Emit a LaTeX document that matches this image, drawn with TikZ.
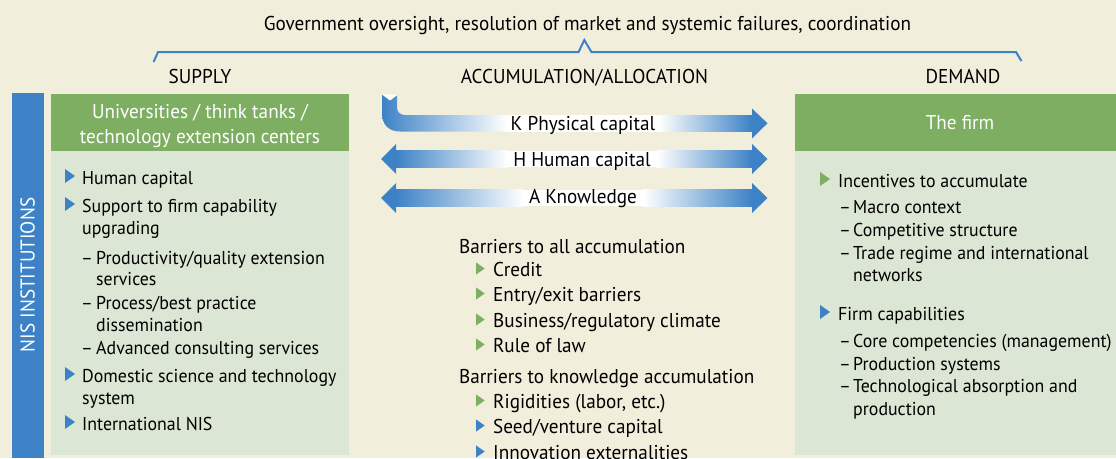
\documentclass[tikz,border=0pt]{standalone}
\usepackage{fontspec}
\setmainfont[FakeStretch=0.96]{PT Sans}
\usetikzlibrary{calc}
\definecolor{bgcream}{HTML}{F2EEDC}
\definecolor{nisblue}{HTML}{3D82C6}
\definecolor{hdgreen}{HTML}{7DAE62}
\definecolor{boxgreen}{HTML}{DCE6D4}
\tikzset{
 pics/bul/.style={code={\fill[#1] (0,-7) -- (10,0) -- (0,7) -- cycle;}},
}

\begin{document}
\begin{tikzpicture}[x=1pt,y=-1pt,font=\fontsize{20}{22}\selectfont,
 txt/.style={anchor=base west,inner sep=0pt},
 boxtxt/.style={txt,font=\fontsize{18.6}{20}\selectfont},
 ctr/.style={anchor=base,inner sep=0pt},
 hdr/.style={ctr,text=white}]
\clip (0,0) rectangle (1116,458);
\fill[bgcream] (0,0) rectangle (1116,458);

% top line and brace
\node[ctr] (gov) at (587.5,30) {Government oversight, resolution of market and systemic failures, coordination};
\draw[nisblue,line width=2pt] (153.6,62) -- (158,52) -- (578.6,52) -- (584.3,40) -- (591.4,52) -- (1016,52) -- (1021.4,61);
\node[ctr] (supply) at (200,83) {SUPPLY};
\node[ctr] (accum) at (584.5,83) {ACCUMULATION/ALLOCATION};
\node[ctr] (demand) at (963,83) {DEMAND};

% NIS bar
\fill[nisblue] (11.5,93) rectangle (43.5,458);
\node[rotate=90,text=white,inner sep=0pt] (nis) at (27.5,275) {NIS INSTITUTIONS};

% supply box
\fill[hdgreen] (51,94) rectangle (349,151);
\fill[boxgreen] (51,151) rectangle (349,455);
\node[hdr] (uni1) at (200,118) {Universities / think tanks /};
\node[hdr] (uni2) at (200,143) {technology extension centers};
\foreach \y/\t [count=\i] in {184/Human capital, 212/Support to firm capability, 234/upgrading,
  382/Domestic science and technology, 404/system, 430/International NIS}
  \node[boxtxt] (sup\i) at (82,\y) {\t};
\foreach \y in {184,212,382,430} \pic at (65,\y-8) {bul=nisblue};
\foreach \y/\t [count=\i] in {264/{Productivity/quality extension}, 285/services, 309/{Process/best practice},
  331/dissemination, 354/Advanced consulting services}
  \node[boxtxt] (sub\i) at (96,\y) {\t};
\foreach \y [count=\i] in {264,309,354} \node[boxtxt] (dsh\i) at (81,\y) {–};

% arrows
\shade[left color=nisblue,right color=white] (382,95) -- (382,113) .. controls (382,125) and (389,131.5) .. (400,131.5)
  -- (507,131.5) -- (507,115) -- (405,115) .. controls (400,115) and (397,112) .. (397,107) -- (397,95) -- cycle;
\fill[white] (382,94.5) -- (398,94.5) -- (390,100.5) -- cycle;
\fill[white] (507,115) rectangle (659,131.5);
\shade[left color=white,right color=nisblue] (659,115) rectangle (752,131.5);
\fill[nisblue] (752,108.5) -- (767.5,123.3) -- (752,138.5) -- cycle;
\node[ctr] (kcap) at (583,130) {K Physical capital};

\fill[nisblue] (396,144) -- (381,159) -- (396,174) -- cycle;
\shade[left color=nisblue,right color=white] (396,150.7) rectangle (507,167.3);
\fill[white] (507,150.7) rectangle (657,167.3);
\shade[left color=white,right color=nisblue] (657,150.7) rectangle (752,167.3);
\fill[nisblue] (752,144) -- (767.5,159) -- (752,174) -- cycle;
\node[ctr] (hcap) at (582,166) {H Human capital};

\fill[nisblue] (396,183) -- (381,198) -- (396,213) -- cycle;
\shade[left color=nisblue,right color=white] (396,189.7) rectangle (523,206.3);
\fill[white] (523,189.7) rectangle (643,206.3);
\shade[left color=white,right color=nisblue] (643,189.7) rectangle (752,206.3);
\fill[nisblue] (752,183) -- (767.5,198) -- (752,213) -- cycle;
\node[ctr] (acap) at (583,203) {A Knowledge};

% barriers
\node[txt] (bar1) at (459,253) {Barriers to all accumulation};
\node[txt] (bar2) at (459,383) {Barriers to knowledge accumulation};
\foreach \y/\t/\c [count=\i] in {276/Credit/hdgreen, 301/{Entry/exit barriers}/hdgreen,
  327/{Business/regulatory climate}/hdgreen, 352/Rule of law/hdgreen,
  408/{Rigidities (labor, etc.)}/hdgreen, 433/{Seed/venture capital}/nisblue,
  459/Innovation externalities/nisblue} {
  \node[txt] (brr\i) at (493,\y) {\t};
  \pic[scale=0.87] at (476,\y-7.5) {bul=\c};
}

% demand box
\fill[hdgreen] (795,94) rectangle (1116,151);
\fill[boxgreen] (795,151) rectangle (1116,455);
\node[hdr] (firm) at (960,129) {The firm};
\node[boxtxt] (inc) at (838,187) {Incentives to accumulate};
\node[boxtxt] (cap) at (838,320) {Firm capabilities};
\pic at (820,179) {bul=hdgreen};
\pic at (820,312) {bul=nisblue};
\foreach \y/\t [count=\i] in {213/Macro context, 236.7/Competitive structure,
  259/Trade regime and international, 281.7/networks,
  347.7/Core competencies (management), 370/Production systems,
  392.7/Technological absorption and, 415.7/production}
  \node[boxtxt] (dem\i) at (853,\y) {\t};
\foreach \y [count=\i] in {213,236.7,259,347.7,370,392.7} \node[boxtxt] (ddsh\i) at (839,\y) {–};
\end{tikzpicture}
\end{document}
